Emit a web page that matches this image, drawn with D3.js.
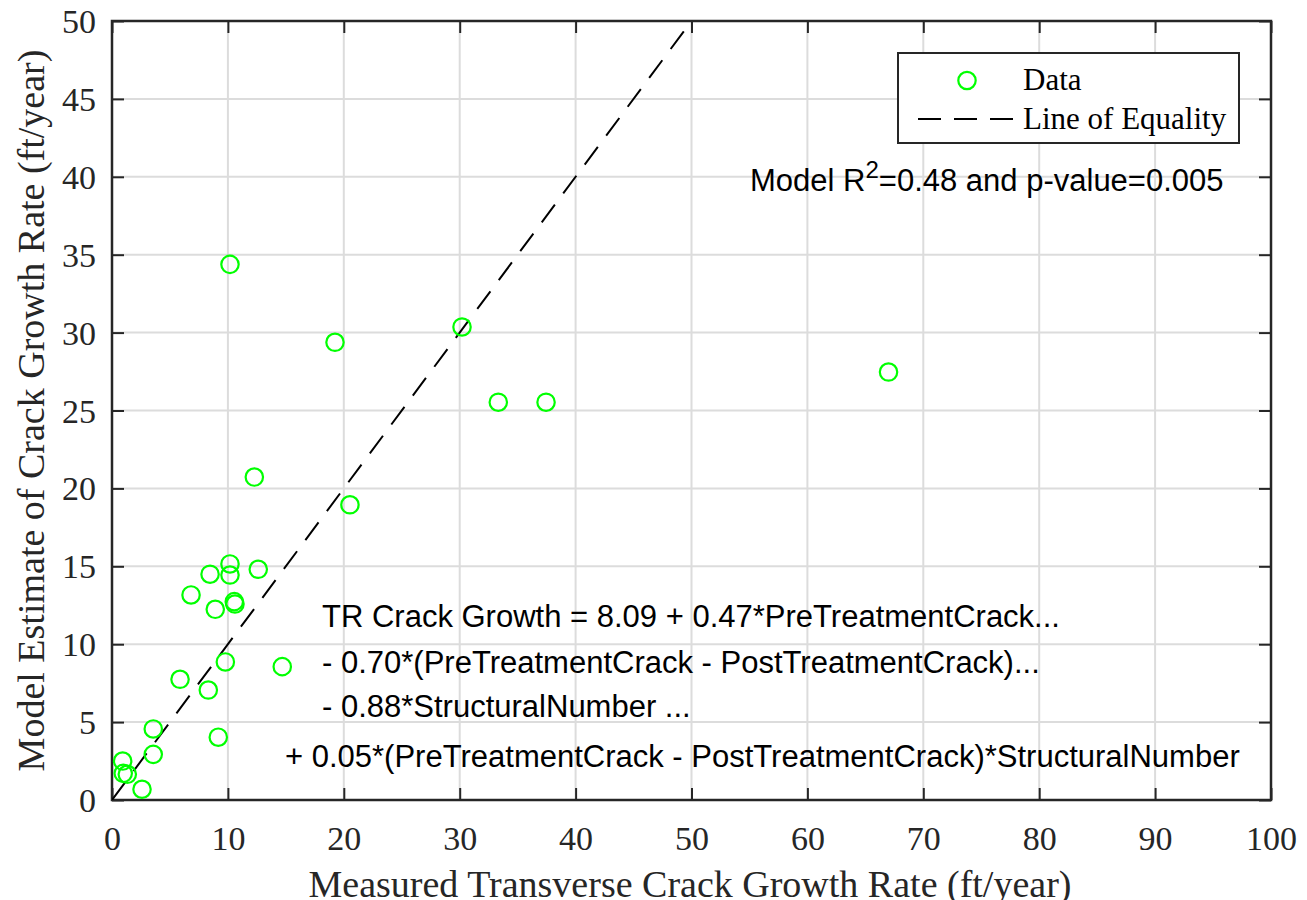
<!DOCTYPE html>
<html>
<head>
<meta charset="utf-8">
<script src="https://cdn.jsdelivr.net/npm/d3@7"></script>
<style>
  body { margin: 0; background: #fff; }
  svg { display: block; }
</style>
</head>
<body>
<svg width="1307" height="900"></svg>
<script>
// measured vs. model estimated growth rate (ft/year)
var measured = [10.18, 19.24, 30.20, 33.33, 37.45, 67.0, 12.28, 20.53, 10.18, 10.18,
                8.46, 12.62, 6.82, 8.91, 10.55, 10.61, 9.78, 14.69, 5.87, 8.31,
                3.56, 9.17, 3.56, 0.92, 0.97, 1.32, 2.59];
var estimated = [34.38, 29.38, 30.36, 25.53, 25.53, 27.47, 20.73, 18.95, 15.15, 14.44,
                 14.49, 14.81, 13.16, 12.24, 12.73, 12.58, 8.86, 8.56, 7.75, 7.06,
                 4.56, 4.03, 2.93, 2.50, 1.71, 1.65, 0.69];
var xTicks = [0, 10, 20, 30, 40, 50, 60, 70, 80, 90, 100];
var yTicks = [0, 5, 10, 15, 20, 25, 30, 35, 40, 45, 50];
var equality = [0, 100];
var modelLines = [
  "TR Crack Growth = 8.09 + 0.47*PreTreatmentCrack...",
  "- 0.70*(PreTreatmentCrack - PostTreatmentCrack)...",
  "- 0.88*StructuralNumber ...",
  "+ 0.05*(PreTreatmentCrack - PostTreatmentCrack)*StructuralNumber"
];

var serif = "'Liberation Serif', 'Times New Roman', serif";
var sans = "'Liberation Sans', Arial, sans-serif";
var axisColor = "#262626";

var pLeft = 112, pRight = 1271, pTop = 21, pBottom = 800;

var svg = d3.select('svg');

var x = d3.scaleLinear().domain([0, 100]).range([pLeft, pRight]);
var y = d3.scaleLinear().domain([0, 50]).range([pBottom, pTop]);

svg.append("clipPath").attr("id", "plotclip")
  .append("rect")
  .attr("x", pLeft).attr("y", pTop)
  .attr("width", pRight - pLeft).attr("height", pBottom - pTop);

// grid
var grid = svg.append("g").attr("stroke", "#dcdcdc").attr("stroke-width", 2);
grid.selectAll(".vx").data(xTicks.slice(1, -1)).enter().append("line")
  .attr("x1", function(d){ return x(d); }).attr("x2", function(d){ return x(d); })
  .attr("y1", pTop).attr("y2", pBottom);
grid.selectAll(".hy").data(yTicks.slice(1, -1)).enter().append("line")
  .attr("y1", function(d){ return y(d); }).attr("y2", function(d){ return y(d); })
  .attr("x1", pLeft).attr("x2", pRight);

// axes (ticks inward, box on all sides)
var tickLen = 12;
var xAxis = svg.append("g").attr("transform", "translate(0," + pBottom + ")")
  .call(d3.axisBottom(x).tickValues(xTicks).tickSizeInner(-tickLen).tickSizeOuter(0).tickPadding(26));
var yAxis = svg.append("g").attr("transform", "translate(" + pLeft + ",0)")
  .call(d3.axisLeft(y).tickValues(yTicks).tickSizeInner(-tickLen).tickSizeOuter(0).tickPadding(16));
var xTop = svg.append("g").attr("transform", "translate(0," + pTop + ")")
  .call(d3.axisTop(x).tickValues(xTicks).tickSizeInner(-tickLen).tickSizeOuter(0).tickFormat(""));
var yRight = svg.append("g").attr("transform", "translate(" + pRight + ",0)")
  .call(d3.axisRight(y).tickValues(yTicks).tickSizeInner(-tickLen).tickSizeOuter(0).tickFormat(""));

[xAxis, yAxis, xTop, yRight].forEach(function(a){
  a.selectAll(".domain").remove();
  a.selectAll(".tick line").attr("stroke", axisColor).attr("stroke-width", 2);
  a.selectAll("text").attr("fill", axisColor).style("font-family", serif).style("font-size", "34px");
});
xAxis.selectAll("text").attr("dy", "0.71em");
yAxis.selectAll("text").attr("dy", "0.34em");

svg.append("rect")
  .attr("x", pLeft).attr("y", pTop)
  .attr("width", pRight - pLeft).attr("height", pBottom - pTop)
  .attr("fill", "none").attr("stroke", axisColor).attr("stroke-width", 2.5);

// line of equality
var plot = svg.append("g").attr("clip-path", "url(#plotclip)");
plot.append("line")
  .attr("x1", x(equality[0])).attr("y1", y(equality[0]))
  .attr("x2", x(equality[1])).attr("y2", y(equality[1]))
  .attr("stroke", "#000").attr("stroke-width", 2)
  .attr("stroke-dasharray", "22,14");

// data points
plot.selectAll("circle")
  .data(measured)
  .enter()
  .append("circle")
  .attr("cx", function(d){ return x(d); })
  .attr("cy", function(d, i){ return y(estimated[i]); })
  .attr("r", 8.7)
  .attr("fill", "none")
  .attr("stroke", "#00ff00")
  .attr("stroke-width", 2.2);

// axis labels
svg.append("text")
  .attr("x", 690).attr("y", 897)
  .attr("text-anchor", "middle")
  .style("font-family", serif).style("font-size", "38px").attr("fill", axisColor)
  .text("Measured Transverse Crack Growth Rate (ft/year)");
svg.append("text")
  .attr("transform", "translate(44," + ((pTop + pBottom) / 2) + ") rotate(-90)")
  .attr("text-anchor", "middle")
  .style("font-family", serif).style("font-size", "38px").attr("fill", axisColor)
  .text("Model Estimate of Crack Growth Rate (ft/year)");

// legend
var legend = svg.append("g");
legend.append("rect")
  .attr("x", 898).attr("y", 53).attr("width", 341).attr("height", 90)
  .attr("fill", "#fff").attr("stroke", axisColor).attr("stroke-width", 2);
legend.append("circle")
  .attr("cx", 967).attr("cy", 80.5).attr("r", 8.7)
  .attr("fill", "none").attr("stroke", "#00ff00").attr("stroke-width", 2.2);
legend.append("line")
  .attr("x1", 918).attr("x2", 1013).attr("y1", 119).attr("y2", 119)
  .attr("stroke", "#000").attr("stroke-width", 2).attr("stroke-dasharray", "23,13");
legend.selectAll(".lt").data(["Data", "Line of Equality"]).enter().append("text")
  .attr("x", 1023).attr("y", function(d, i){ return 90 + i * 39; })
  .style("font-family", serif).style("font-size", "31px").attr("fill", "#000")
  .text(function(d){ return d; });

// model statistics
var stat = svg.append("text")
  .attr("x", 750).attr("y", 191)
  .style("font-family", sans).style("font-size", "31px").attr("fill", "#000");
stat.append("tspan").text("Model R");
stat.append("tspan").attr("dy", -13).style("font-size", "24px").text("2");
stat.append("tspan").attr("dy", 13).text("=0.48 and p-value=0.005");

// model equation
var eqX = [322, 322, 322, 285];
var eqY = [627, 673, 717, 767];
svg.selectAll(".eq").data(modelLines).enter().append("text")
  .attr("x", function(d, i){ return eqX[i]; })
  .attr("y", function(d, i){ return eqY[i]; })
  .style("font-family", sans).style("font-size", "31px").attr("fill", "#000")
  .text(function(d){ return d; });
</script>
</body>
</html>
